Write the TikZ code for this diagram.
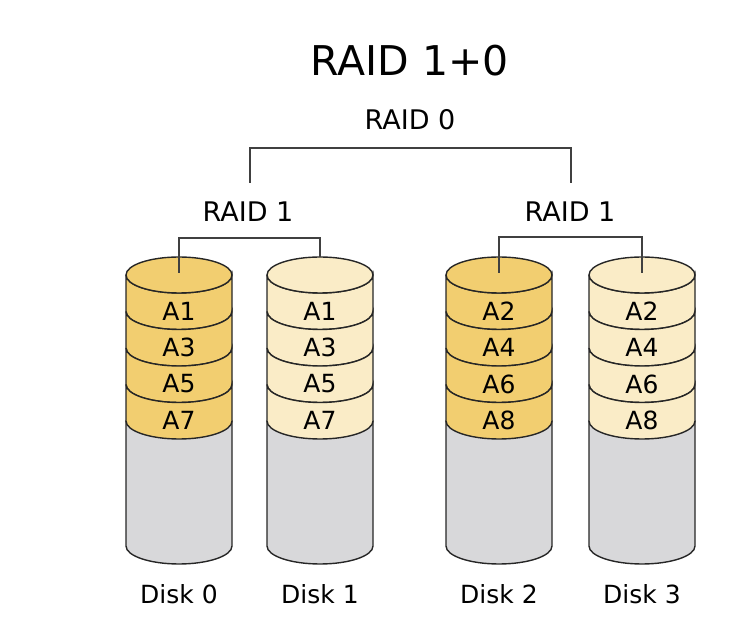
\documentclass[tikz,border=0pt]{standalone}
\usepackage{fontspec}
\setmainfont{DejaVu Sans}
\definecolor{golddark}{RGB}{242,206,112}
\definecolor{goldlight}{RGB}{250,236,199}
\definecolor{diskgray}{RGB}{216,216,218}
\tikzset{
  shell/.style={draw=black!85, line width=1.4pt},
  wire/.style={draw=black!75, line width=1.1pt},
  tag/.style={font=\fontsize{25}{25}\selectfont, inner sep=0pt},
  head/.style={font=\fontsize{27}{27}\selectfont, inner sep=0pt},
}
\begin{document}
\begin{tikzpicture}[x=1pt, y=1pt]
    \useasboundingbox (0,0) rectangle (732,-617);

    \node[font=\fontsize{41}{41}\selectfont, inner sep=0pt] (title) at (410,-61) {RAID 1+0};
    \node[head] (raid0) at (410,-120) {RAID 0};
    \node[head] (raidL) at (248,-212) {RAID 1};
    \node[head] (raidR) at (570,-212) {RAID 1};

    % disks: centre / number / colour / first block
    \foreach \x/\n/\fillc/\o in {179/0/golddark/1, 320/1/goldlight/1, 499/2/golddark/2, 642/3/goldlight/2} {
        \path[shell, fill=diskgray] (\x-53,-421) -- (\x-53,-546)
            arc[start angle=180, end angle=360, x radius=53pt, y radius=18pt] -- (\x+53,-421) -- cycle;
        \foreach \k in {0,...,3} {
            \path[shell, fill=\fillc] (\x-53,{-275-36.5*\k}) -- (\x-53,{-311.5-36.5*\k})
                arc[start angle=180, end angle=360, x radius=53pt, y radius=18pt]
                -- (\x+53,{-275-36.5*\k})
                arc[start angle=0, end angle=-180, x radius=53pt, y radius=18pt];
            \node[tag] (blk\n\k) at (\x,{-311-36.5*\k}) {A\the\numexpr2*\k+\o\relax};
        }
        \path[shell, fill=\fillc] (\x,-275) ellipse[x radius=53pt, y radius=18pt];
        \coordinate (top\n) at (\x,-273);
        \coordinate (rim\n) at (\x,-257);
        \node[tag] (disk\n) at (\x,-594) {Disk \n};
    }

    \coordinate (fork0) at (250,-183);
    \coordinate (fork1) at (571,-183);
    \draw[wire] (fork0) -- ++(0,35) -| (fork1);
    \draw[wire] (top0) -- ++(0,35) -| (rim1);
    \draw[wire] (top2) -- ++(0,36) -| (top3);
\end{tikzpicture}
\end{document}
